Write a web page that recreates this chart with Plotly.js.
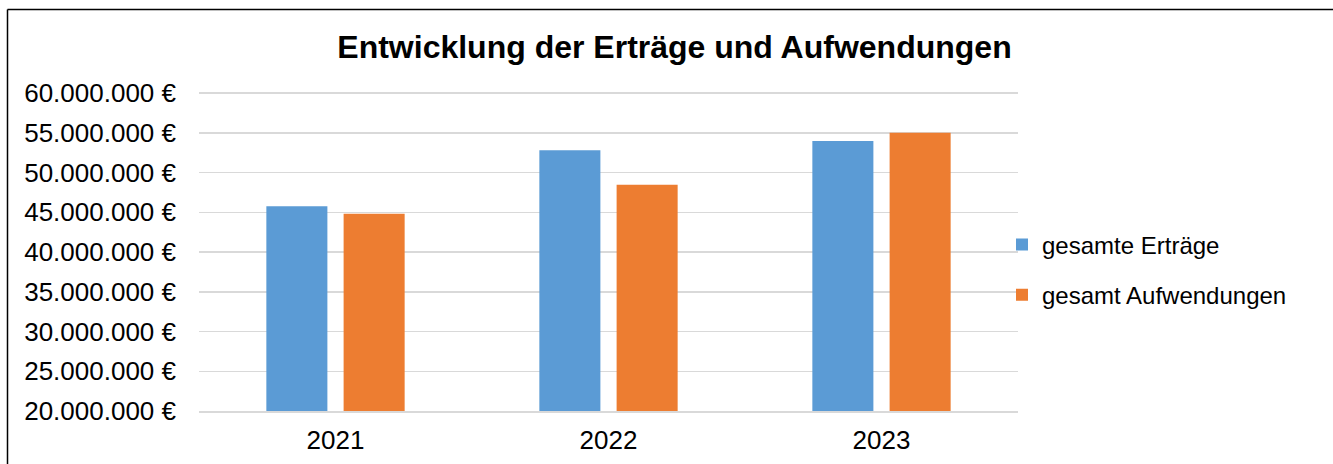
<!DOCTYPE html>
<html>
<head>
<meta charset="utf-8">
<script src="https://cdn.plot.ly/plotly-3.0.1.min.js"></script>
<style>
html,body{margin:0;padding:0;background:#fff;}
#chart{width:1333px;height:464px;}
</style>
</head>
<body>
<div id="chart"></div>
<script>
const years = ['2021', '2022', '2023'];
const ertraege = [45750000, 52800000, 53950000];
const aufwendungen = [44800000, 48450000, 55000000];
const seriesNames = ['gesamte Erträge', 'gesamt Aufwendungen'];
const colors = ['#5B9BD5', '#ED7D31'];

const L = 199, R = 1018, T = 88, B = 411, W = 1333, H = 464;
const yMin = 20000000, yTop = 60000000 + 5 * (40000000 / 318);
const px2x = p => (p - L) / (R - L);
const px2y = p => (B - p) / (B - T);

const font = 'Liberation Sans, Arial, sans-serif';

const traces = [
  {type: 'bar', x: years, y: ertraege, name: seriesNames[0], legendgroup: 'a',
   marker: {color: colors[0], line: {width: 0}}, hoverinfo: 'none'},
  {type: 'bar', x: years, y: aufwendungen, name: seriesNames[1], legendgroup: 'b',
   marker: {color: colors[1], line: {width: 0}}, hoverinfo: 'none'}
];

const layout = {
  width: W, height: H,
  margin: {l: L, r: W - R, t: T, b: H - B, pad: 0},
  paper_bgcolor: '#fff', plot_bgcolor: '#fff',
  separators: ',.',
  font: {family: font, color: '#000', size: 26},
  title: {text: '<b>Entwicklung der Erträge und Aufwendungen</b>', x: 0.506, xanchor: 'center',
          y: 1 - 47 / H, yanchor: 'middle', font: {family: font, size: 32, color: '#000'}},
  barmode: 'group', bargap: 0.434, bargroupgap: 0.21,
  xaxis: {type: 'category', showgrid: false, showline: true, linecolor: '#d9d9d9', linewidth: 1.5,
          ticks: '', tickfont: {size: 26}, ticklabelstandoff: 5},
  yaxis: {range: [yMin, yTop], dtick: 5000000, tick0: 0, tickformat: ',.0f', ticksuffix: ' €',
          showgrid: true, gridcolor: '#d9d9d9', gridwidth: 1.5, zeroline: false, showline: false,
          ticks: '', tickfont: {size: 26}, ticklabelstandoff: 22},
  legend: {x: px2x(1002), xanchor: 'left', y: px2y(270), yanchor: 'middle',
           font: {size: 24}, traceorder: 'grouped', tracegroupgap: 16, itemwidth: 30,
           bgcolor: 'rgba(0,0,0,0)'},
  showlegend: true,
  shapes: [
    {type: 'line', xref: 'paper', yref: 'paper', x0: px2x(7.5), x1: px2x(1340), y0: px2y(9.5), y1: px2y(9.5),
     line: {color: '#000', width: 1.5}},
    {type: 'line', xref: 'paper', yref: 'paper', x0: px2x(7.5), x1: px2x(7.5), y0: px2y(9.5), y1: px2y(470),
     line: {color: '#000', width: 1.5}}
  ]
};

Plotly.newPlot('chart', traces, layout, {displayModeBar: false, staticPlot: true});
</script>
</body>
</html>
